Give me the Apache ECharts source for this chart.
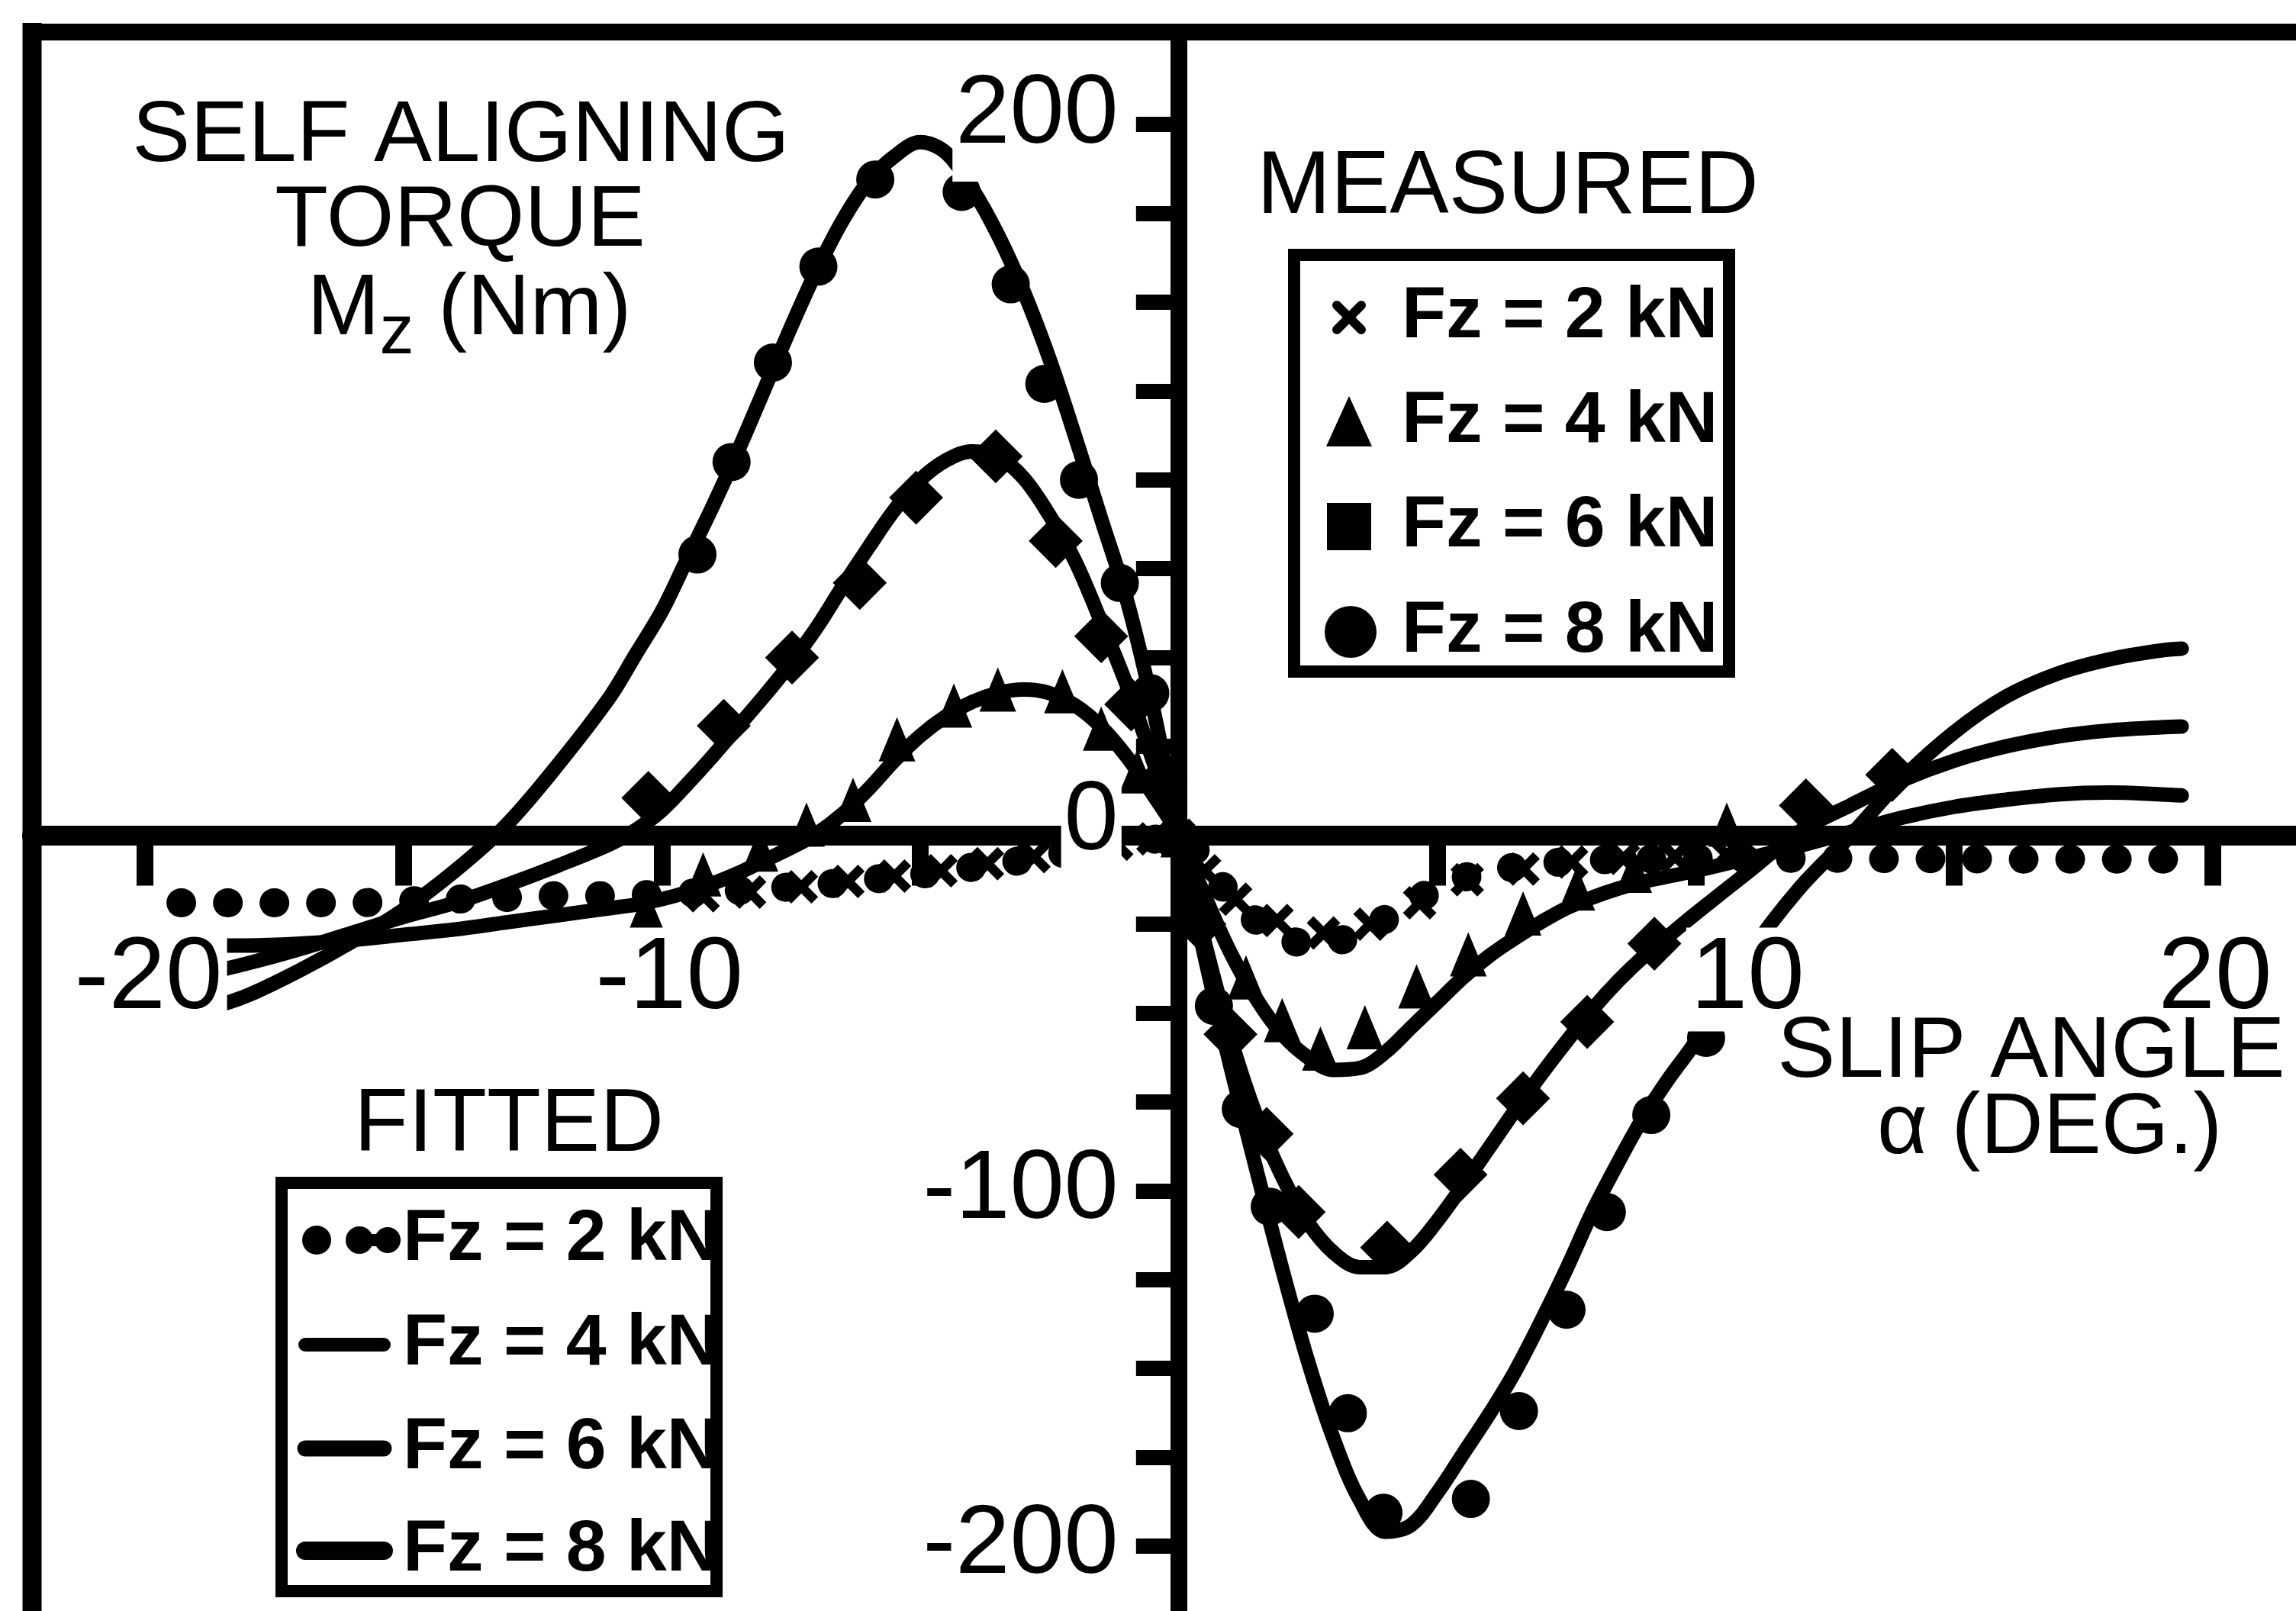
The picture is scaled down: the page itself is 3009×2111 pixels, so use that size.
<!DOCTYPE html>
<html><head><meta charset="utf-8">
<script src="https://cdn.jsdelivr.net/npm/echarts@6/dist/echarts.min.js"></script>
<style>html,body{margin:0;padding:0;background:#fff}#c{width:3009px;height:2111px}</style>
</head><body><div id="c"></div>
<script>
// ---------------- data ----------------
const alphaFit = [-18.7,-18,-17,-16,-15,-14,-13,-12,-11,
  -10.5,-10,-9.5,-9,-8.5,-8,-7.5,-7,-6.5,-6,
  -5.5,-5,-4.5,-4,-3.5,-3,-2.5,-2,-1.5,-1,
  -0.5,0,0.5,1,1.5,2,2.5,3,3.5,4,
  4.5,5,5.5,6,6.5,7,7.5,8,8.5,9,
  9.5,10,11,12,13,14,15,16,17,18,
  19,19.4];
const fit8kN = [-48.5,-45,-38,-30,-21,-10,3,20,39,
  51,63,78,93,109,126,143,159,173,184,
  191,195,192,182,169,153,134,112,89,66,
  36,0,-34,-65,-94,-122,-148,-170,-187,-196,
  -194,-185,-174,-163,-151,-137,-122,-106,-92,-79,
  -68,-58,-34,-15,0,16,29,39,45.5,49.5,
  52,52.5];
const fit6kN = [-38.5,-36,-32,-27.5,-23,-19,-14,-8.5,-2.5,
  1.5,7,14.5,22.5,31,39.5,48.5,58.5,70,81,
  91.5,100,105.5,108,106.5,100.5,90,77,60,42,
  21,0,-30,-57,-79,-96,-109,-117.5,-121.5,-121.5,
  -117,-108.5,-98.5,-88,-77.5,-67.5,-58,-49,-41,-34,
  -28,-22,-10.5,1,8.5,15.5,21,25,27.8,29.5,
  30.4,30.6];
const fit4kN = [-31,-31,-30.5,-29.5,-28,-26.5,-24.5,-22.5,-20.5,
  -19.5,-18,-16,-13.5,-10.5,-7,-3.5,0.5,6,13,
  21,28,33.5,37.5,40,41,40,36.5,30.5,22,
  11.5,0,-17,-33,-46,-56,-62.5,-66,-65.5,-61,
  -54,-47,-40,-34,-29,-24.5,-20.5,-17.5,-15,-13,
  -11.5,-10,-6.5,-3,1,5,8,10,11.5,12,
  11.5,11.2];
const alphaFit2kN = [-19.3,-18,-17,-16,-15,-14,-13,-12,-11,-10,-9,-8,-7,-6,-5,-4,-3,-2,-1,-0.5,
  0,0.5,1,1.5,2,2.5,3,3.5,4,4.5,5,5.5,6,6.5,7,8,9,10,11,12,13,14,15,16,17,18,19,19.8];
const fit2kN = [-19,-19,-19,-19,-18.5,-18,-17.5,-17,-17,-16.5,-16,-15,-14,-12.5,-11,-9,-7,-4.5,-2.5,-1.2,
  0,-8,-17,-24,-28.5,-30.5,-30,-27.5,-23.5,-19,-15,-12,-10,-9,-8,-7,-6.7,-6.5,-6.5,-6.5,-6.5,-6.6,-6.6,-6.7,-6.7,-6.7,-6.7,-6.7];

const meas2kN = [[-9.2,-17],[-8.3,-16],[-7.3,-14.5],[-6.4,-13],[-5.5,-11.5],[-4.6,-10],[-3.7,-8],[-2.8,-6],[-2.0,-4],[-1.2,-2.5],[-0.5,-1],[0,0],
  [0.5,-10],[1.1,-18],[1.9,-24],[2.8,-27.5],[3.7,-25],[4.66,-19],[5.58,-12.5],[6.66,-9.5],[7.6,-7.5],[8.6,-6.5],[9.6,-6],[10.6,-5.5]];
const meas4kN = [[-10.3,-21],[-9.2,-11],[-8.1,-4],[-7.2,3],[-6.3,10],[-5.45,27],[-4.35,36.5],[-3.5,41],[-2.25,40.5],[-1.5,30],[-0.8,18],[0,0],
  [0.6,-22],[1.3,-40],[2.0,-52],[2.74,-60],[3.6,-54],[4.6,-42.5],[5.6,-33.5],[6.66,-22],[7.7,-15],[8.8,-10],[10.6,3]];
const meas6kN = [[-10.26,10.5],[-8.8,30.8],[-7.48,50],[-6.17,71],[-5.08,95],[-3.54,106.6],[-2.38,82.8],[-1.5,56],[-0.92,36.8],[-0.35,15],
  [0.4,-25],[1.0,-56],[1.7,-84],[2.32,-106],[4.03,-116],[5.45,-95.5],[6.66,-74],[7.9,-52.5],[9.2,-30.5],[12.13,8.4],[13.8,17]];
const meas8kN = [[-9.31,79],[-8.65,105],[-7.85,133],[-6.97,160],[-5.87,184.5],[-4.2,181],[-3.25,155],[-2.6,127],[-1.93,100],[-1.14,71],[-0.55,40],
  [0.3,-22],[0.68,-48],[1.2,-77],[1.76,-104.5],[2.63,-134.6],[3.27,-162.6],[3.96,-190.6],[5.65,-186.7],[6.58,-162],[7.5,-133.5],[8.28,-106],[9.14,-78.7],[10.2,-57]];

const xTicks = [-20,-15,-10,-5,5,10,15,20];
const xTickLabels = [-20,-10,10,20];
const yTicks = [-200,-175,-150,-125,-100,-75,-50,-25,0,25,50,75,100,125,150,175,200];
const yTickLabels = [-200,-100,0,200];
const legendLabels = ['Fz = 2 kN','Fz = 4 kN','Fz = 6 kN','Fz = 8 kN'];

// ---------------- layout / styling ----------------
const W = 3009, H = 2111;
const G = {left: 42, top: 42, right: 0, bottom: 0};
const X_MIN = -22.18, X_MAX = 21.61, Y_MIN = -218.25, Y_MAX = 225.98;
const gridW = W - G.left - G.right, gridH = H - G.top - G.bottom;
// place the axes through the origin (line, ticks and labels together)
const xAxisOffset = -(gridH * (0 - Y_MIN) / (Y_MAX - Y_MIN));
const yAxisOffset = -(gridW * (0 - X_MIN) / (X_MAX - X_MIN));

const K = '#000';
const FONT = '"Liberation Sans", Arial, sans-serif';
const xLabelShift = {'-20': 5, '-10': 10, '10': 68, '20': 3};
const xRich = { t: {fontSize: 134, lineHeight: 118, fontFamily: FONT, color: K, backgroundColor: '#fff', padding: [2, 6, 0, 6]} };
Object.keys(xLabelShift).forEach((k, i) => { xRich['s' + i] = {width: 2 * xLabelShift[k], fontSize: 10, lineHeight: 10, color: 'rgba(0,0,0,0)'}; });
const yRich = {
  n: {fontSize: 128, lineHeight: 116, fontFamily: FONT, color: K, backgroundColor: '#fff', padding: [0, 4, 0, 4]},
  z: {fontSize: 128, lineHeight: 116, fontFamily: FONT, color: K, backgroundColor: '#fff', padding: [0, 4, 34, 4]},
  t: {fontSize: 128, lineHeight: 116, fontFamily: FONT, color: K, backgroundColor: '#fff', padding: [0, 4, 22, 4]}
};
const xPath = 'path://M2,0 L5,3 L8,0 L10,2 L7,5 L10,8 L8,10 L5,7 L2,10 L0,8 L3,5 L0,2 Z';

function near(v, list) { for (const c of list) { if (Math.abs(v - c) < 1e-6) return c; } return null; }
function xLabel(v) {
  const c = near(v, xTickLabels); if (c === null) return '';
  const k = String(c); const i = Object.keys(xLabelShift).indexOf(k);
  return '{s' + i + '| }{t|' + k + '}';
}
function yLabel(v) {
  const c = near(v, yTickLabels); if (c === null) return '';
  return c === 0 ? '{z|0}' : (c === 200 ? '{t|200}' : '{n|' + c + '}');
}

function T(text, x, y, size, weight, align) {
  return {type: 'text', x: x, y: y, z: 10, style: {text: text, fontSize: size, fontFamily: FONT, fontWeight: weight || 'normal',
    fill: K, align: align || 'center', verticalAlign: 'middle', textAlign: align || 'center', textVerticalAlign: 'middle'}};
}
const graphics = [
  {type: 'line', z: 10, shape: {x1: 30, y1: 42, x2: 3009, y2: 42}, style: {stroke: K, lineWidth: 22}},
  {type: 'line', z: 10, shape: {x1: 42, y1: 30, x2: 42, y2: 2111}, style: {stroke: K, lineWidth: 25}},
  T('SELF ALIGNING', 604, 180, 114),
  T('TORQUE', 603, 291, 114),
  {type: 'text', x: 615, y: 407, z: 10, style: {text: '{a|M}{b|z}{a| (Nm)}', align: 'center', verticalAlign: 'middle', fill: K,
    rich: {a: {fontSize: 114, lineHeight: 130, fontFamily: FONT, fill: K},
           b: {fontSize: 90, lineHeight: 90, fontFamily: FONT, fill: K, padding: [62, 0, 0, 0]}}}},
  T('SLIP ANGLE', 2662, 1380, 114),
  T('\u03b1 (DEG.)', 2686, 1480, 114),
  T('MEASURED', 1976, 247, 116),
  {type: 'rect', z: 10, shape: {x: 1696, y: 334, width: 570, height: 546}, style: {fill: 'none', stroke: K, lineWidth: 16}},
  T('FITTED', 667, 1476, 116),
  {type: 'rect', z: 10, shape: {x: 369, y: 1550, width: 570, height: 535}, style: {fill: 'none', stroke: K, lineWidth: 16}}
];
const measRows = [416, 553, 690, 828];
const fitRows = [1625, 1762, 1898, 2032];
legendLabels.forEach((lab, i) => {
  graphics.push(T(lab, 1837, measRows[i], 95, 'bold', 'left'));
  graphics.push(T(lab, 528, fitRows[i], 95, 'bold', 'left'));
});
const mi = 1768;
graphics.push({type: 'line', z: 10, shape: {x1: mi - 16, y1: measRows[0] - 16, x2: mi + 16, y2: measRows[0] + 16}, style: {stroke: K, lineWidth: 12, lineCap: 'round'}});
graphics.push({type: 'line', z: 10, shape: {x1: mi - 16, y1: measRows[0] + 16, x2: mi + 16, y2: measRows[0] - 16}, style: {stroke: K, lineWidth: 12, lineCap: 'round'}});
graphics.push({type: 'polygon', z: 10, shape: {points: [[mi, measRows[1] - 34], [mi - 30, measRows[1] + 32], [mi + 30, measRows[1] + 32]]}, style: {fill: K}});
graphics.push({type: 'rect', z: 10, shape: {x: mi - 29, y: measRows[2] - 31, width: 58, height: 62}, style: {fill: K}});
graphics.push({type: 'circle', z: 10, shape: {cx: mi + 2, cy: measRows[3], r: 34}, style: {fill: K}});
graphics.push({type: 'circle', z: 10, shape: {cx: 415, cy: fitRows[0], r: 19}, style: {fill: K}});
graphics.push({type: 'line', z: 10, shape: {x1: 471, y1: fitRows[0], x2: 508, y2: fitRows[0]}, style: {stroke: K, lineWidth: 16}});
graphics.push({type: 'circle', z: 10, shape: {cx: 471, cy: fitRows[0], r: 18}, style: {fill: K}});
graphics.push({type: 'circle', z: 10, shape: {cx: 508, cy: fitRows[0], r: 17}, style: {fill: K}});
[18, 21, 24].forEach((w, j) => {
  graphics.push({type: 'line', z: 10, shape: {x1: 400, y1: fitRows[j + 1], x2: 503, y2: fitRows[j + 1]}, style: {stroke: K, lineWidth: w, lineCap: 'round'}});
});

function fitted(name, alphas, vals, extra) {
  return Object.assign({type: 'line', name: name, data: alphas.map((a, i) => [a, vals[i]]), smooth: 0.35,
    symbol: 'none', showSymbol: false, silent: true, z: 2,
    lineStyle: {color: K, width: 19, cap: 'round', join: 'round'}}, extra || {});
}
function measured(name, pts, symbol, size, rot) {
  return {type: 'scatter', name: name, data: pts, symbol: symbol, symbolSize: size, symbolRotate: rot || 0,
    itemStyle: {color: K, opacity: 1}, silent: true, z: 2};
}

const chart = echarts.init(document.getElementById('c'), null, {renderer: 'canvas', width: W, height: H});
chart.setOption({
  animation: false,
  backgroundColor: '#fff',
  grid: {left: G.left, top: G.top, right: G.right, bottom: G.bottom, containLabel: false, outerBoundsMode: 'none'},
  xAxis: {
    type: 'value', min: X_MIN, max: X_MAX, z: 3, position: 'bottom', offset: xAxisOffset,
    axisLine: {onZero: false, lineStyle: {color: K, width: 26}},
    axisTick: {show: true, customValues: xTicks, length: 66, lineStyle: {color: K, width: 22}},
    splitLine: {show: false},
    axisLabel: {show: true, margin: 130, showMinLabel: false, showMaxLabel: false, hideOverlap: false, formatter: xLabel, rich: xRich}
  },
  yAxis: {
    type: 'value', min: Y_MIN, max: Y_MAX, z: 4, position: 'left', offset: yAxisOffset,
    axisLine: {onZero: false, lineStyle: {color: K, width: 22}},
    axisTick: {show: true, customValues: yTicks, length: 56, lineStyle: {color: K, width: 20}},
    splitLine: {show: false},
    axisLabel: {show: true, margin: 75, showMinLabel: false, showMaxLabel: false, hideOverlap: false, formatter: yLabel, rich: yRich}
  },
  graphic: graphics,
  series: [
    fitted('Fitted Fz = 2 kN', alphaFit2kN, fit2kN, {lineStyle: {color: K, width: 38, type: [1, 60], cap: 'round', join: 'round'}}),
    fitted('Fitted Fz = 4 kN', alphaFit, fit4kN),
    fitted('Fitted Fz = 6 kN', alphaFit, fit6kN),
    fitted('Fitted Fz = 8 kN', alphaFit, fit8kN),
    measured('Measured Fz = 2 kN', meas2kN, xPath, 44),
    measured('Measured Fz = 4 kN', meas4kN, 'triangle', [48, 58]),
    measured('Measured Fz = 6 kN', meas6kN, 'rect', 50, 45),
    measured('Measured Fz = 8 kN', meas8kN, 'circle', 50)
  ]
});
</script>
</body></html>
